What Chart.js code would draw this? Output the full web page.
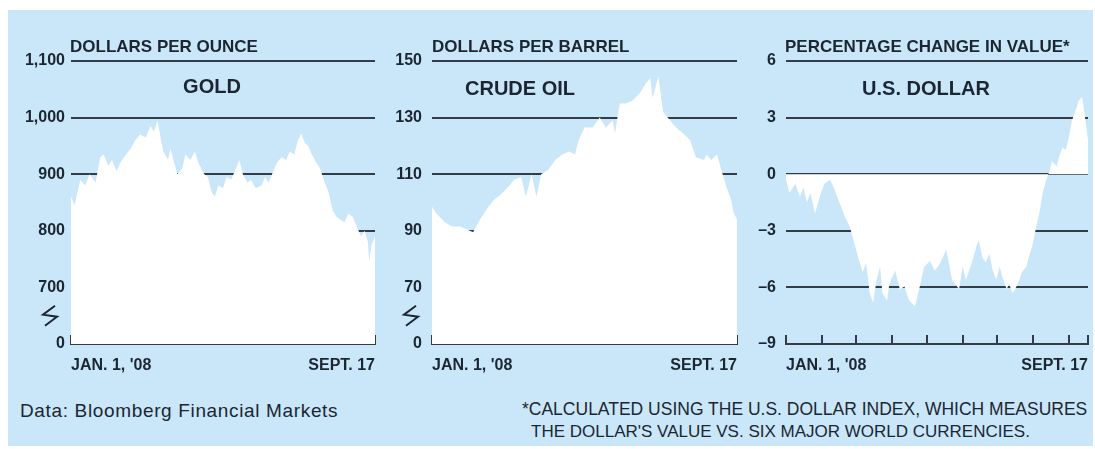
<!DOCTYPE html>
<html>
<head>
<meta charset="utf-8">
<script src="https://cdn.jsdelivr.net/npm/chart.js@4.4.1/dist/chart.umd.min.js"></script>
<style>
  body { margin: 0; width: 1095px; height: 449px; position: relative; overflow: hidden; background: #fff;
         font-family: "Liberation Sans", Arial, sans-serif; color: #1c2632; }
  #panel { position: absolute; left: 8px; top: 10px; width: 1085px; height: 436px; background: #c9e7f8; }
  canvas { position: absolute; top: 0; }
  .t { position: absolute; white-space: nowrap; line-height: 1; }
  .unit { font-size: 17px; font-weight: bold; top: 38px; }
  .name { font-size: 20px; font-weight: bold; width: 200px; text-align: center; }
  .note { font-size: 17.5px; }
</style>
</head>
<body>
<div id="panel"></div>
<canvas id="gold" width="380" height="380" style="left:0"></canvas>
<canvas id="oil" width="360" height="380" style="left:380px"></canvas>
<canvas id="usd" width="355" height="380" style="left:740px"></canvas>

<div class="t unit" style="left:70px">DOLLARS PER OUNCE</div>
<div class="t name" style="left:112px;top:76px">GOLD</div>
<div class="t unit" style="left:432px">DOLLARS PER BARREL</div>
<div class="t name" style="left:420px;top:78px">CRUDE OIL</div>
<div class="t unit" style="left:785px">PERCENTAGE CHANGE IN VALUE*</div>
<div class="t name" style="left:826px;top:78px">U.S. DOLLAR</div>

<div class="t note" style="left:20px;top:401px;font-size:19px;letter-spacing:0.65px">Data: Bloomberg Financial Markets</div>
<div class="t note" style="left:522px;top:401px">*CALCULATED USING THE U.S. DOLLAR INDEX, WHICH MEASURES</div>
<div class="t note" style="left:531px;top:423px;font-size:17px">THE DOLLAR'S VALUE VS. SIX MAJOR WORLD CURRENCIES.</div>

<script>
// days counted from Jan. 1, 2008 (Sept. 17 = day 260)
const monthStarts = [0, 31, 60, 91, 121, 152, 182, 213, 244, 260];

const goldDays = [0, 3, 8, 12, 16, 21, 25, 28, 32, 35, 39, 42, 47, 51, 55, 59, 64, 68, 71, 74, 77, 79, 83, 85, 89, 91,
  95, 98, 102, 106, 109, 114, 117, 120, 123, 126, 130, 133, 137, 140, 144, 147, 151, 154, 158, 163, 166, 169, 173, 176,
  180, 184, 187, 191, 194, 197, 200, 203, 206, 210, 213, 217, 220, 224, 227, 230, 234, 237, 241, 244, 248, 251, 254, 255, 257, 260];
const goldPrices = [860, 845, 890, 880, 900, 885, 930, 935, 915, 925, 905, 920, 935, 945, 960, 970, 965, 985, 975, 995, 960, 940, 925, 945, 915, 900,
  910, 935, 925, 940, 920, 900, 895, 870, 860, 880, 875, 895, 890, 905, 925, 900, 885, 890, 875, 880, 895, 885, 905, 920,
  930, 925, 940, 935, 960, 972, 955, 950, 935, 920, 910, 885, 870, 835, 825, 820, 815, 830, 825, 810, 790, 800, 780, 745, 775, 790];
const goldTicks = [600, 700, 800, 900, 1000, 1100];
const goldTickLabels = ["0", "700", "800", "900", "1,000", "1,100"];

const oilDays = [0, 4, 11, 17, 24, 30, 35, 41, 48, 53, 59, 65, 70, 76, 80, 85, 89, 93, 99, 105, 111, 117, 122, 125, 130, 137,
  143, 148, 154, 156, 160, 165, 171, 177, 182, 186, 188, 193, 197, 203, 208, 214, 220, 225, 232, 234, 238, 243, 246, 251, 255, 257, 260];
const oilPrices = [98.5, 96, 93, 91.5, 91.5, 90.5, 89.5, 94, 98.5, 101, 103, 105.5, 108, 109, 102, 110, 102, 110, 111.5, 115, 117, 118, 117, 122, 126.5, 126.5,
  130, 126.5, 129, 124.5, 135, 135, 136, 138.5, 142, 144, 137, 144.5, 132, 129, 126.5, 124.5, 122, 116, 115, 117, 115, 117, 112.5, 105.5, 101, 96.5, 94];
const oilTicks = [50, 70, 90, 110, 130, 150];
const oilTickLabels = ["0", "70", "90", "110", "130", "150"];

const usdDays = [0, 3, 8, 12, 15, 18, 21, 25, 29, 33, 38, 42, 46, 51, 55, 59, 63, 66, 69, 72, 75, 78, 81, 83, 87, 89, 94, 98,
  102, 106, 111, 115, 119, 124, 128, 132, 138, 143, 149, 152, 155, 160, 164, 166, 169, 172, 175, 178, 181, 184, 186, 190,
  192, 195, 198, 201, 203, 207, 209, 212, 215, 218, 221, 224, 227, 229, 233, 235, 238, 241, 244, 246, 250, 252, 255, 257, 260];
const usdChange = [-0.3, -1, -0.5, -1.2, -0.7, -1.5, -1, -2.1, -1.2, -0.5, -0.3, -0.85, -1.5, -2.3, -2.8, -3.7, -4.6, -5.2, -4.7, -6.3, -6.8, -5.6, -4.9, -6.3, -6.7, -5.8, -5.1, -6.1,
  -5.95, -6.7, -7, -6, -4.9, -4.6, -5.1, -4.8, -4, -5.6, -6.1, -4.9, -5.6, -4.7, -3.8, -3.5, -4.4, -4.7, -4.2, -5.1, -5.6, -4.9, -5.4, -6.1,
  -5.8, -6.3, -6, -5.6, -5.2, -4.9, -4.4, -3.8, -2.9, -2.1, -1, -0.3, 0.2, 0.7, 0.4, 0.9, 1.4, 1.3, 2.1, 2.8, 3.5, 3.9, 4.1, 3.2, 1.8];
const usdTicks = [-9, -6, -3, 0, 3, 6];
const usdTickLabels = ["\u20139", "\u20136", "\u20133", "0", "3", "6"];

const DARK = "#323d47";
Chart.defaults.font.family = '"Liberation Sans", Arial, sans-serif';
Chart.defaults.color = "#1c2632";

// zigzag between the lowest gridline and the zero baseline (broken value axis)
const axisBreak = {
  id: "axisBreak",
  afterDraw(chart, args, opts) {
    if (!opts.show) return;
    const {ctx, chartArea, scales} = chart;
    const x = chartArea.left - 21;
    const y = (scales.y.getPixelForValue(opts.above) + chartArea.bottom) / 2;
    ctx.save();
    ctx.strokeStyle = "#1c2632";
    ctx.lineWidth = 2;
    ctx.beginPath();
    ctx.moveTo(x + 5, y - 10);
    ctx.lineTo(x - 7, y - 1);
    ctx.lineTo(x + 7, y + 1);
    ctx.lineTo(x - 5, y + 10);
    ctx.stroke();
    ctx.restore();
  }
};

function panel(id, days, values, cfg) {
  return new Chart(document.getElementById(id), {
    type: "line",
    data: {
      datasets: [{
        data: days.map((d, i) => ({x: d, y: values[i]})),
        fill: cfg.fill,
        backgroundColor: "#fff",
        borderWidth: 0,
        pointRadius: 0,
        tension: 0
      }]
    },
    options: {
      responsive: false,
      animation: false,
      events: [],
      layout: {padding: {top: 61, right: cfg.padRight, left: 0, bottom: 0}},
      plugins: {
        legend: {display: false},
        tooltip: {enabled: false},
        axisBreak: {show: cfg.broken, above: cfg.ticks[1]}
      },
      scales: {
        x: {
          type: "linear", min: 0, max: 260, z: 1,
          afterBuildTicks: s => { s.ticks = monthStarts.map(v => ({value: v})); },
          afterFit: s => { s.height = 36; s.paddingLeft = 0; s.paddingRight = 0; },
          grid: {drawOnChartArea: false, drawTicks: true, tickLength: -9, color: DARK, lineWidth: 2},
          border: {display: true, color: DARK, width: 2},
          ticks: {
            autoSkip: false, maxRotation: 0, align: "inner", padding: 21,
            font: {size: 16, weight: "bold"},
            callback: v => v === 0 ? "JAN. 1, '08" : v === 260 ? "SEPT. 17" : ""
          }
        },
        y: {
          min: cfg.ticks[0], max: cfg.ticks[cfg.ticks.length - 1], z: 1,
          afterBuildTicks: s => { s.ticks = cfg.ticks.map(v => ({value: v})); },
          afterFit: s => { s.width = cfg.axisWidth; s.paddingTop = 0; s.paddingBottom = 0; },
          grid: {drawTicks: false, color: DARK, lineWidth: 2},
          border: {display: false},
          ticks: {
            padding: cfg.gap,
            font: {size: 16, weight: "bold"},
            callback: (v, i) => cfg.labels[i]
          }
        }
      }
    },
    plugins: [axisBreak]
  });
}

panel("gold", goldDays, goldPrices, {fill: "start", ticks: goldTicks, labels: goldTickLabels, axisWidth: 71, padRight: 5, gap: 6, broken: true});
panel("oil", oilDays, oilPrices, {fill: "start", ticks: oilTicks, labels: oilTickLabels, axisWidth: 52, padRight: 3, gap: 10, broken: true});
panel("usd", usdDays, usdChange, {fill: "origin", ticks: usdTicks, labels: usdTickLabels, axisWidth: 46, padRight: 7, gap: 10, broken: false});
</script>
</body>
</html>
